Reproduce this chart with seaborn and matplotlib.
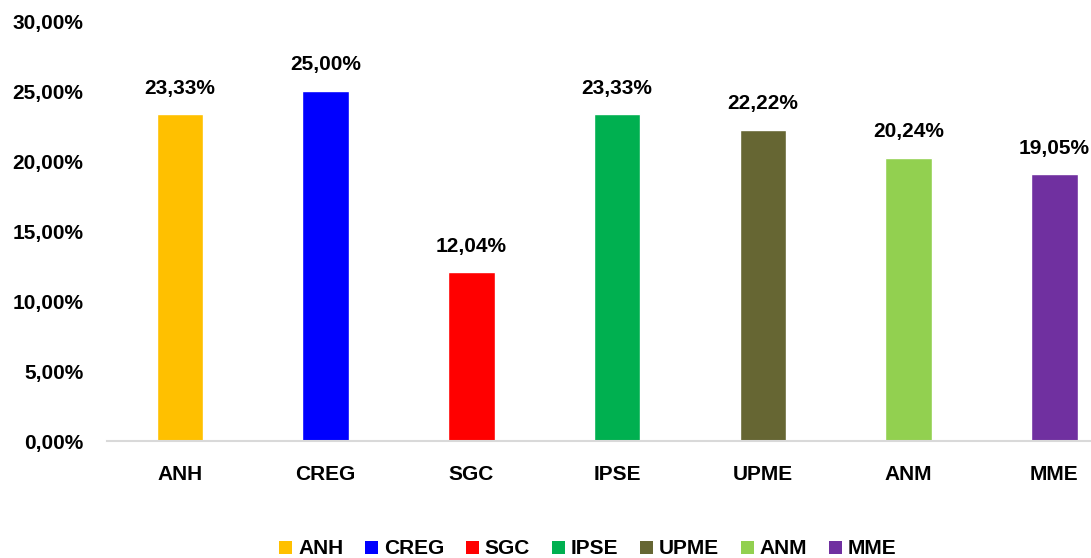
import matplotlib
matplotlib.use("Agg")
import matplotlib.pyplot as plt
import seaborn as sns
from matplotlib.patches import Patch
from matplotlib.ticker import FuncFormatter

categories = ["ANH", "CREG", "SGC", "IPSE", "UPME", "ANM", "MME"]
values = [23.33, 25.00, 12.04, 23.33, 22.22, 20.24, 19.05]
colors = ["#FFC000", "#0000FF", "#FF0000", "#00B050", "#666633", "#92D050", "#7030A0"]
yticks = [0, 5, 10, 15, 20, 25, 30]

sns.set_theme(style="white")
plt.rcParams['font.family'] = ['Liberation Sans', 'DejaVu Sans']
plt.rcParams['font.weight'] = 'bold'

FS = 15

fig = plt.figure(figsize=(10.91, 5.58), dpi=100)
ax = fig.add_axes([107/1091, (558-441)/558, (1090-107)/1091, 420/558])

sns.barplot(x=categories, y=values, hue=categories, palette=colors,
            width=0.32, legend=False, ax=ax, saturation=1)

ax.set_ylim(0, 30)
ax.set_xlim(-0.5, 6.245)
ax.set_yticks(yticks)
ax.yaxis.set_major_formatter(FuncFormatter(lambda v, p: f"{v:.2f}".replace(".", ",") + "%"))
ax.tick_params(axis='both', length=0, labelsize=FS)
ax.tick_params(axis='y', pad=17)
ax.tick_params(axis='x', pad=17)
for lbl in ax.get_xticklabels() + ax.get_yticklabels():
    lbl.set_fontweight('bold')
    lbl.set_color('black')

for s in ['top', 'right', 'left']:
    ax.spines[s].set_visible(False)
ax.spines['bottom'].set_color('#d9d9d9')
ax.spines['bottom'].set_linewidth(1.5)

for i, v in enumerate(values):
    ax.annotate(f"{v:.2f}".replace(".", ",") + "%", (i, v), xytext=(0, 12),
                textcoords='offset points', ha='center', va='bottom',
                fontsize=FS, fontweight='bold', color='black')

ax.set_xlabel("")
ax.set_ylabel("")

handles = [Patch(facecolor=c, edgecolor='none', label=l) for c, l in zip(colors, categories)]
fig.legend(handles=handles, loc='center', bbox_to_anchor=(588/1091, 1 - 549/558),
           ncol=7, frameon=False, handlelength=0.6, handleheight=0.6,
           handletextpad=0.3, columnspacing=1.05, labelcolor='black',
           prop={'weight': 'bold', 'size': FS})

fig.savefig("out.png", dpi=100)
